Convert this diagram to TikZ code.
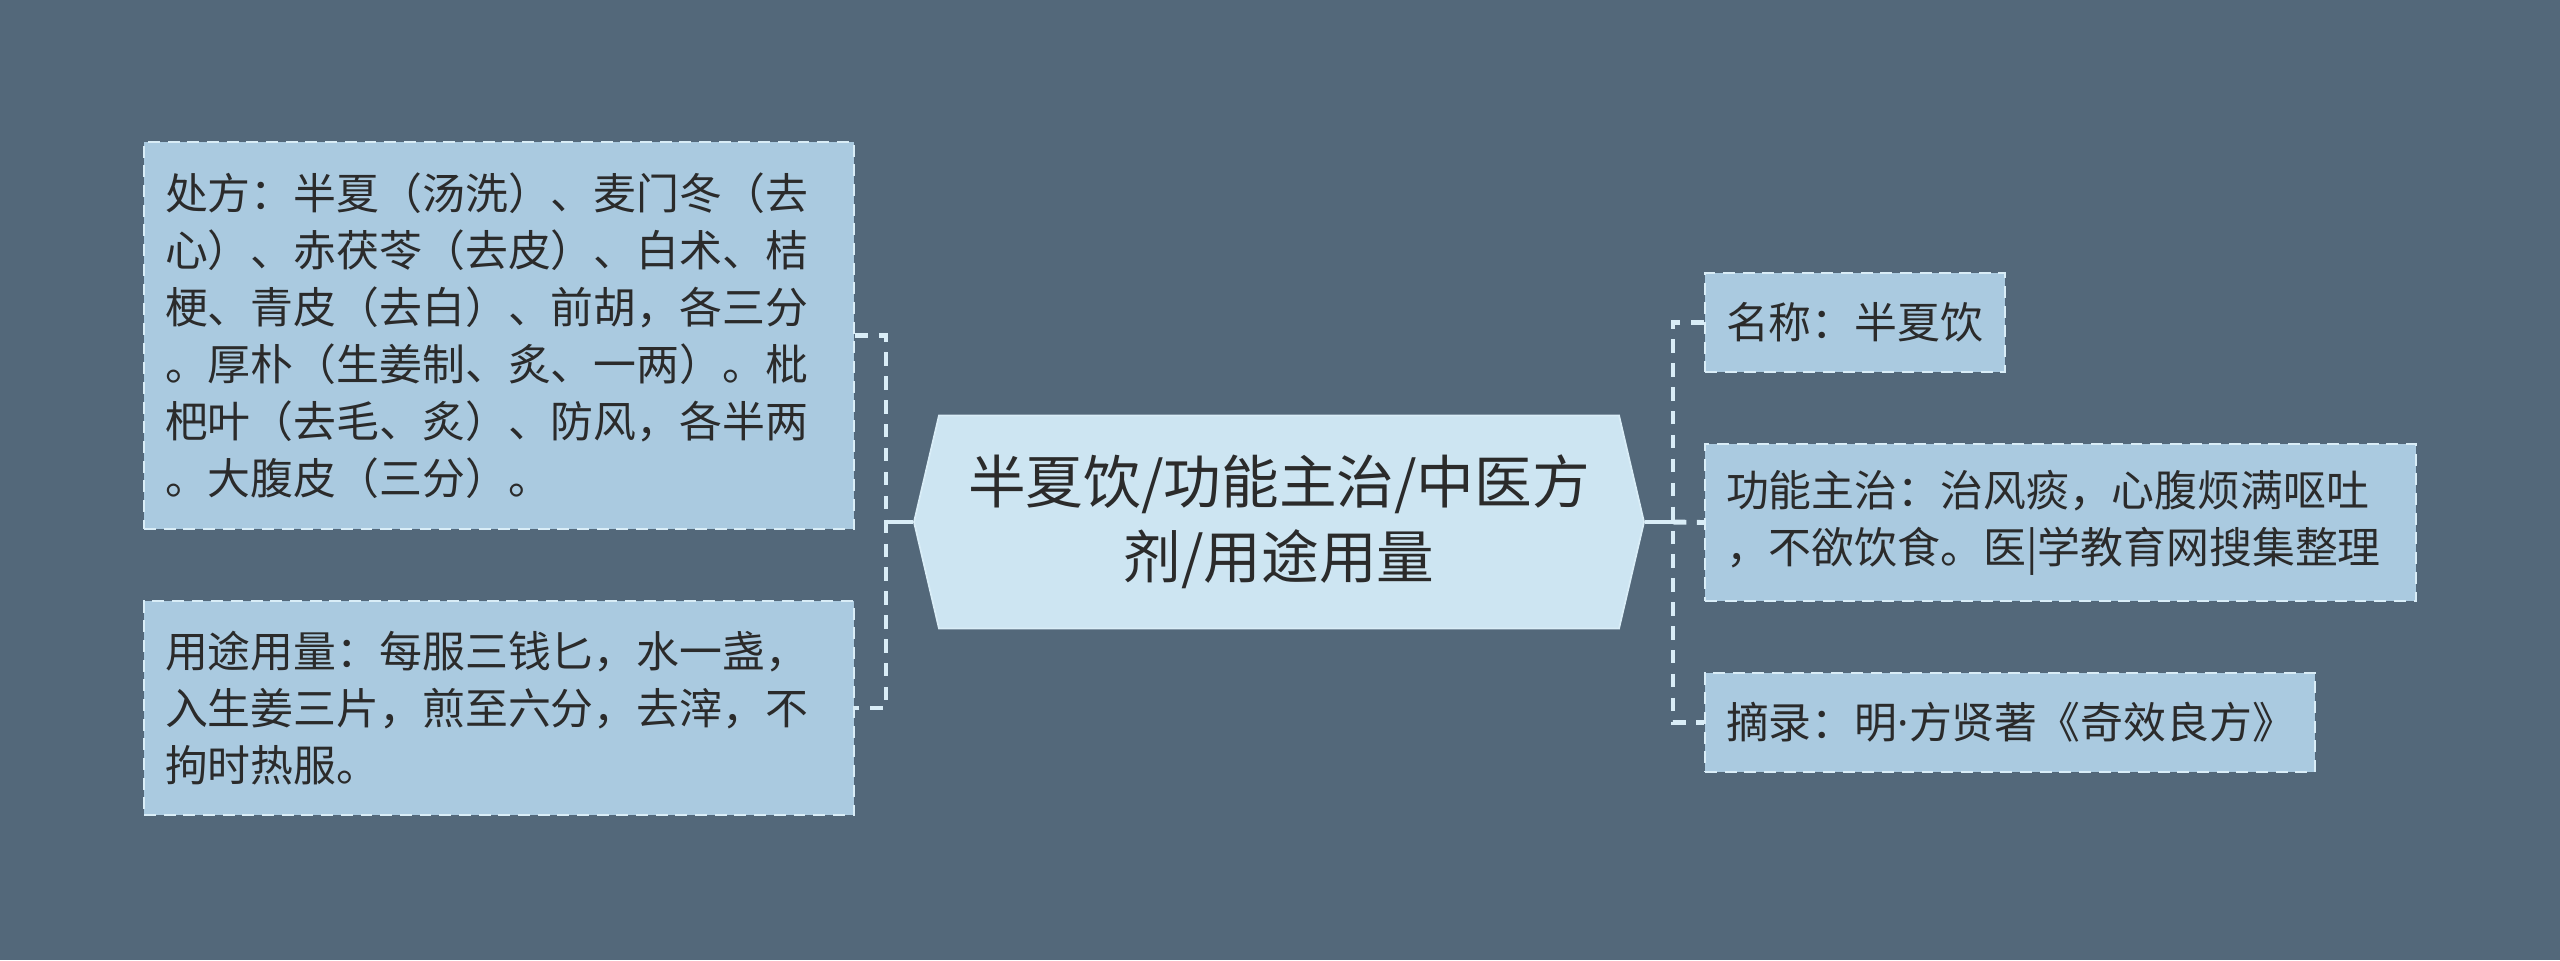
\documentclass[tikz,border=0pt]{standalone}
\usepackage{fontspec}
\newfontfamily\cjk{Noto Sans CJK SC}
\newfontfamily\latinsans{Noto Sans}
\usepackage{tikz}
\usetikzlibrary{shapes.symbols}
\definecolor{bgslate}{HTML}{53687A}
\definecolor{leafblue}{HTML}{AACAE0}
\definecolor{hubblue}{HTML}{CDE5F2}
\definecolor{edgepale}{HTML}{D9EDF7}
\definecolor{inkgrey}{HTML}{2B2B2B}

\begin{document}
\begin{tikzpicture}[
  leaf/.style={draw=edgepale,fill=leafblue,line width=0.6pt,dash pattern=on 3.4pt off 2.2pt,
    text=inkgrey,align=left,inner xsep=0.21cm,inner ysep=0pt,
    font=\cjk\fontsize{12.2}{16.2}\selectfont},
  hubnode/.style={shape=signal,signal to=west and east,signal pointer angle=153.6,
    draw=edgepale,fill=hubblue,line width=0.5pt,text=inkgrey,align=center,
    minimum width=7.30cm,minimum height=2.13cm,inner sep=0pt,
    font=\cjk\fontsize{16.4}{21.2}\selectfont},
  trunk/.style={edgepale,line width=1.2pt},
  branch/.style={edgepale,line width=1.4pt,dash pattern=on 3.8pt off 3pt}]
\fill[bgslate] (0,0) rectangle (25.6,-9.6);
\useasboundingbox (0,0) rectangle (25.6,-9.6);

\node[hubnode] (hub) at (12.79,-5.22) {半夏饮/功能主治/中医方\\剂/用途用量};

\node[leaf,text width=6.68cm,minimum height=3.87cm] (recipe) at (4.99,-3.355)
  {处方：半夏（汤洗）、麦门冬（去\\心）、赤茯苓（去皮）、白术、桔\\梗、青皮（去白）、前胡，各三分\\。厚朴（生姜制、炙、一两）。枇\\杷叶（去毛、炙）、防风，各半两\\。大腹皮（三分）。};
\node[leaf,text width=6.68cm,minimum height=2.14cm] (dosage) at (4.99,-7.08)
  {用途用量：每服三钱匕，水一盏，\\入生姜三片，煎至六分，去滓，不\\拘时热服。};

\node[leaf,text width=2.58cm,minimum height=0.99cm] (name) at (18.55,-3.225)
  {名称：半夏饮};
\node[leaf,text width=6.69cm,minimum height=1.57cm] (usage) at (20.605,-5.225)
  {功能主治：治风痰，心腹烦满呕吐\\，不欲饮食。医|学教育网搜集整理};
\node[leaf,text width=5.68cm,minimum height=0.99cm] (source) at (20.10,-7.225)
  {摘录：明{\latinsans ·}方贤著《奇效良方》};

\coordinate (ljoin) at (8.86,-5.22);
\coordinate (rjoin) at (16.73,-5.22);

\draw[trunk] (hub.west) -- (ljoin);
\draw[branch] (recipe.east) -| (ljoin) |- (dosage.east);
\draw[trunk] (hub.east) -- (rjoin);
\draw[branch] (name.west) -| (rjoin) |- (source.west);
\draw[branch] (rjoin) -- (usage.west);
\end{tikzpicture}
\end{document}
